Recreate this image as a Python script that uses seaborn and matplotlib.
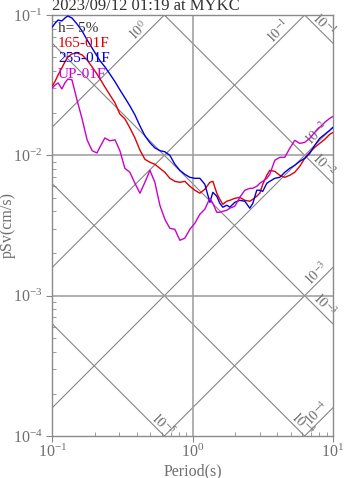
import numpy as np
import pandas as pd
import matplotlib
matplotlib.use("Agg")
import matplotlib.pyplot as plt
from matplotlib.ticker import NullFormatter, LogLocator
import seaborn as sns

# Pseudo-velocity response spectra, h = 5 %
period = [0.100, 0.105, 0.110, 0.117, 0.123, 0.129, 0.138, 0.150, 0.163, 0.177,
          0.192, 0.208, 0.219, 0.237, 0.257, 0.280, 0.303, 0.329, 0.357, 0.388,
          0.421, 0.457, 0.496, 0.538, 0.584, 0.634, 0.688, 0.747, 0.811, 0.880,
          0.955, 1.037, 1.125, 1.221, 1.326, 1.393, 1.486, 1.562, 1.640, 1.751,
          1.840, 1.997, 2.168, 2.353, 2.554, 2.682, 2.863, 3.008, 3.159, 3.375,
          3.545, 3.846, 4.175, 4.532, 4.918, 5.339, 5.794, 6.290, 6.827, 7.410,
          8.041, 8.728, 9.474, 10.0]

sv_165 = [0.0312, 0.0339, 0.0374, 0.0420, 0.0463, 0.0502, 0.0528, 0.0537, 0.0519, 0.0478,
          0.0427, 0.0380, 0.0350, 0.0307, 0.0270, 0.0236, 0.0197, 0.0182, 0.0157, 0.0133,
          0.0109, 0.00937, 0.00892, 0.00863, 0.00808, 0.00757, 0.00686, 0.00653, 0.00642, 0.00653,
          0.00602, 0.00564, 0.00537, 0.00573, 0.00642, 0.00653, 0.00537, 0.00486, 0.00448, 0.00471,
          0.00478, 0.00494, 0.00502, 0.00478, 0.00471, 0.00486, 0.00511, 0.00537, 0.00622, 0.00721,
          0.00782, 0.00769, 0.00721, 0.00697, 0.00721, 0.00757, 0.00835, 0.00952, 0.01050, 0.01140,
          0.01217, 0.01300, 0.01411, 0.01458]

sv_255 = [0.0821, 0.0877, 0.0921, 0.0906, 0.0952, 0.0984, 0.0952, 0.0863, 0.0769, 0.0664,
          0.0582, 0.0511, 0.0471, 0.0427, 0.0380, 0.0334, 0.0293, 0.0257, 0.0225, 0.0194,
          0.0162, 0.0138, 0.0123, 0.0113, 0.0108, 0.0106, 0.0100, 0.00863, 0.00782, 0.00732,
          0.00697, 0.00686, 0.00686, 0.00622, 0.00463, 0.00545, 0.00511, 0.00455, 0.00427, 0.00441,
          0.00427, 0.00463, 0.00478, 0.00471, 0.00420, 0.00455, 0.00564, 0.00564, 0.00554, 0.00632,
          0.00653, 0.00686, 0.00697, 0.00757, 0.00808, 0.00849, 0.00906, 0.00952, 0.01033, 0.01178,
          0.01321, 0.01411, 0.01506, 0.01582]

sv_up = [0.0302, 0.0318, 0.0328, 0.0297, 0.0328, 0.0350, 0.0345, 0.0248, 0.0182, 0.0129,
         0.0108, 0.0104, 0.0115, 0.0133, 0.0127, 0.0129, 0.0108, 0.00808, 0.00757, 0.00632,
         0.00537, 0.00642, 0.00782, 0.00642, 0.00441, 0.00350, 0.00302, 0.00297, 0.00248, 0.00257,
         0.00297, 0.00328, 0.00380, 0.00413, 0.00494, 0.00455, 0.00393, 0.00393, 0.00399, 0.00406,
         0.00420, 0.00434, 0.00502, 0.00564, 0.00582, 0.00582, 0.00602, 0.00632, 0.00653, 0.00686,
         0.00732, 0.00921, 0.00968, 0.00968, 0.01121, 0.01279, 0.01217, 0.01237, 0.01321, 0.01458,
         0.01582, 0.01718, 0.01834, 0.01895]

components = ["165-01F", "255-01F", "UP-01F"]
component_colors = ["#e00000", "#0000e0", "#cc00cc"]
damping_text = "h= 5%"
title_text = "2023/09/12 01:19 at MYKC"

# Tripartite reference levels: acceleration (cm/s^2) and displacement (cm)
accel_levels = [1e0, 1e-1, 1e-2, 1e-3, 1e-4]
disp_levels = [1e-1, 1e-2, 1e-3, 1e-4, 1e-5]

t_min, t_max = 0.1, 10.0
sv_min, sv_max = 1e-4, 1e-1

sns.set_theme(style="ticks")
plt.rcParams["font.family"] = ["Liberation Serif", "DejaVu Serif"]
plt.rcParams["mathtext.fontset"] = "stix"

frame_color = "#8a8a8a"
label_color = "#6e6e6e"
diag_color = "#858585"

fig = plt.figure(figsize=(3.47, 4.78), dpi=100)
fig.patch.set_facecolor("white")
ax = fig.add_axes([52.3 / 347, 42 / 478, 280.7 / 347, 421 / 478])
ax.set_facecolor("white")
ax.set_xscale("log")
ax.set_yscale("log")
ax.set_xlim(t_min, t_max)
ax.set_ylim(sv_min, sv_max)

two_pi = 2 * np.pi
t_span = np.array([t_min, t_max])


def level_label(v):
    return r"$10^{%d}$" % int(round(np.log10(v)))


# constant-acceleration lines (rising)
for a in accel_levels:
    ax.plot(t_span, a * t_span / two_pi, color=diag_color, lw=0.8, zorder=1)
    t_top = two_pi * sv_max / a
    t_end = min(t_max, t_top)
    back = 0.15 if t_top < t_max else 0.08
    t_lab = t_end * 10 ** (-back)
    ax.annotate(level_label(a), (t_lab, a * t_lab / two_pi), xytext=(-5, 5),
                textcoords="offset pixels", rotation=45, rotation_mode="anchor",
                ha="center", va="center", fontsize=10, color=label_color, zorder=2)

# constant-displacement lines (falling)
for d in disp_levels:
    ax.plot(t_span, two_pi * d / t_span, color=diag_color, lw=0.8, zorder=1)
    t_bot = two_pi * d / sv_min
    t_end = min(t_max, t_bot)
    back = 0.05 if t_bot < t_max else 0.1
    t_lab = t_end * 10 ** (-back)
    ax.annotate(level_label(d), (t_lab, two_pi * d / t_lab), xytext=(5, 5),
                textcoords="offset pixels", rotation=-45, rotation_mode="anchor",
                ha="center", va="center", fontsize=10, color=label_color, zorder=2)

# decade grid
ax.axvline(1.0, color="#9a9a9a", lw=1.1, zorder=1)
for lev in (1e-2, 1e-3):
    ax.axhline(lev, color="#9a9a9a", lw=1.1, zorder=1)

spectra = pd.DataFrame({
    "period": period * 3,
    "sv": sv_165 + sv_255 + sv_up,
    "component": sum([[c] * len(period) for c in components], []),
})
sns.lineplot(data=spectra, x="period", y="sv", hue="component",
             hue_order=components, palette=dict(zip(components, component_colors)),
             estimator=None, sort=False, legend=False, lw=1.0, ax=ax, zorder=3)

for s in ax.spines.values():
    s.set_color(frame_color)
    s.set_linewidth(1.0)

ax.xaxis.set_minor_locator(LogLocator(base=10, subs=np.arange(2, 10)))
ax.yaxis.set_minor_locator(LogLocator(base=10, subs=np.arange(2, 10)))
ax.xaxis.set_minor_formatter(NullFormatter())
ax.yaxis.set_minor_formatter(NullFormatter())
ax.tick_params(which="major", direction="out", length=4, width=0.8,
               color=frame_color, labelcolor=label_color, labelsize=11.5, pad=3)
ax.tick_params(axis="x", which="major", pad=1.5)
ax.tick_params(which="minor", direction="in", length=3, width=0.6, color=frame_color)
ax.tick_params(which="both", top=False, right=False)

ax.set_xlabel("Period(s)", fontsize=11.5, color=label_color)
ax.xaxis.set_label_coords(0.5, -(471 - 436) / 421)
ax.xaxis.label.set_verticalalignment("center")
ax.set_ylabel("pSv(cm/s)", fontsize=11.5, color=label_color)
ax.yaxis.set_label_coords(-44.3 / 280.7, 0.5)
ax.yaxis.label.set_verticalalignment("center")

# component key
key_x = 0.02
key_rows = [(damping_text, "#333333")] + list(zip(components, component_colors))
for i, (txt, col) in enumerate(key_rows):
    ax.text(key_x, 1 - (13 + 15.5 * i) / 421, txt, transform=ax.transAxes,
            ha="left", va="center", fontsize=11, color=col, zorder=4)

fig.text(52.3 / 347, 1 - 10.5 / 478, title_text, ha="left", va="baseline",
         fontsize=12, color="#333333")

fig.savefig("out.png", dpi=100)
